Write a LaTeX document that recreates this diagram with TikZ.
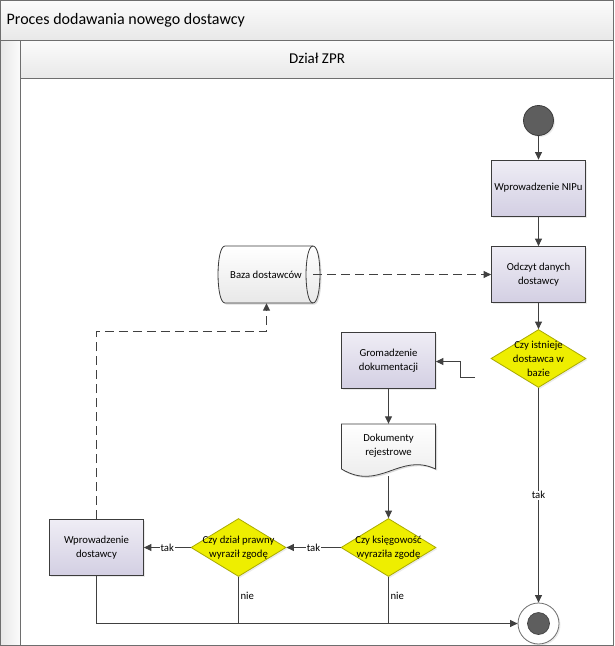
\documentclass[tikz,border=0pt]{standalone}
\usepackage{fontspec}
\setmainfont{Carlito}
\usetikzlibrary{shapes.geometric,arrows.meta,shadows}

\definecolor{frameline}{HTML}{6E6E6E}
\definecolor{barTop}{HTML}{FBFBFB}
\definecolor{barBot}{HTML}{E8E8E8}
\definecolor{taskTop}{HTML}{EFEDF5}
\definecolor{taskBot}{HTML}{D3CFE3}
\definecolor{taskLine}{HTML}{3C3C3C}
\definecolor{decFill}{RGB}{238,238,0}
\definecolor{decLine}{RGB}{170,170,0}
\definecolor{flow}{HTML}{404040}
\definecolor{dotFill}{HTML}{5E5E5E}

\tikzset{
  every node/.style={font=\fontsize{10.7}{13.8}\selectfont},
  softshadow/.style={drop shadow={opacity=0.16,shadow xshift=1.5pt,shadow yshift=-1.5pt}},
  task/.style={rectangle,draw=taskLine,line width=0.8pt,top color=taskTop,bottom color=taskBot,
    minimum width=94pt,minimum height=56pt,align=center,inner sep=2pt,softshadow},
  decision/.style={diamond,draw=decLine,line width=0.8pt,fill=decFill,
    minimum width=95pt,minimum height=58pt,inner sep=0pt,softshadow},
  dectext/.style={align=center,inner sep=0pt,font=\fontsize{10.7}{14}\selectfont},
  anchorbox/.style={rectangle,inner sep=0pt},
  flowline/.style={draw=flow,line width=1pt},
  arrow/.style={flowline,-{Triangle[length=7.5pt,width=7pt]}},
  dasharrow/.style={arrow,dash pattern=on 9pt off 5pt},
  edgelabel/.style={fill=white,inner sep=1pt},
  nielabel/.style={anchor=west,pos=0.4,inner sep=1.5pt},
}

\begin{document}
\begin{tikzpicture}[x=1pt,y=-1pt]
\useasboundingbox (0,0) rectangle (615,646);

% pool frame, title bar, lane strip and lane header
\shade[top color=barTop,bottom color=barBot] (0.5,0.5) rectangle (613.5,40.5);
\shade[left color=barBot,right color=barTop] (0.5,40.5) rectangle (20.5,645.5);
\shade[top color=barTop,bottom color=barBot] (20.5,40.5) rectangle (613.5,78.5);
\draw[frameline,line width=1pt] (0.5,0.5) rectangle (613.5,645.5);
\draw[frameline,line width=1pt] (0.5,40.5) -- (613.5,40.5);
\draw[frameline,line width=1pt] (20.5,40.5) -- (20.5,645.5);
\draw[frameline,line width=1pt] (20.5,78.5) -- (613.5,78.5);
\node[anchor=west,inner sep=0pt,font=\fontsize{16}{19}\selectfont] (pooltitle) at (6.5,20.5) {Proces dodawania nowego dostawcy};
\node[font=\fontsize{15}{18}\selectfont] (lanetitle) at (317,58.5) {Dział ZPR};

% start and end events
\node[circle,draw=taskLine,line width=0.8pt,fill=dotFill,minimum size=30pt,inner sep=0pt,softshadow] (start) at (538.5,120.5) {};
\node[circle,draw=frameline,line width=0.8pt,fill=white,minimum size=41pt,inner sep=0pt,softshadow] (end) at (538.5,623.5) {};
\node[circle,draw=taskLine,line width=0.6pt,fill=dotFill,minimum size=22pt,inner sep=0pt] (endcore) at (end) {};

% activities
\node[task] (nip) at (538.5,188) {Wprowadzenie NIPu};
\node[task] (read) at (538.5,274.5) {Odczyt danych\\dostawcy};
\node[task] (gather) at (388.5,360.5) {Gromadzenie\\dokumentacji};
\node[task] (enter) at (96.5,547.5) {Wprowadzenie\\dostawcy};

% data store drawn as a horizontal cylinder
\node[anchorbox,minimum width=102pt,minimum height=57pt] (db) at (269,274.5) {};
\fill[black,opacity=0.14] (226.5,247.5) -- (314.5,247.5)
  .. controls (323.8,247.5) and (323.8,304.5) .. (314.5,304.5) -- (226.5,304.5)
  .. controls (217.2,304.5) and (217.2,247.5) .. (226.5,247.5) -- cycle;
\draw[taskLine,line width=0.8pt,top color=white,bottom color=barBot]
  (225,246) -- (313,246) .. controls (322.3,246) and (322.3,303) .. (313,303)
  -- (225,303) .. controls (215.7,303) and (215.7,246) .. (225,246) -- cycle;
\draw[taskLine,line width=0.8pt] (313,246) .. controls (303.7,246) and (303.7,303) .. (313,303);
\node (dbtext) at (266,274.5) {Baza dostawców};

% document with wavy lower edge
\node[anchorbox,minimum width=94pt,minimum height=52pt] (docs) at (388.5,450) {};
\fill[black,opacity=0.14] (343,425.5) -- (437,425.5) -- (437,470.5)
  .. controls (401,453.5) and (381,493.5) .. (343,470.5) -- cycle;
\draw[taskLine,line width=0.8pt,top color=white,bottom color=barBot]
  (341.5,424) -- (435.5,424) -- (435.5,469) .. controls (399.5,452) and (379.5,492) .. (341.5,469) -- cycle;
\node[align=center] (docstext) at (388.5,446) {Dokumenty\\rejestrowe};

% decisions
\node[decision] (exists) at (538.5,358.5) {};
\node[dectext] at (exists) {Czy istnieje\\dostawca w\\bazie};
\node[decision] (acc) at (388.5,547.5) {};
\node[dectext] at (acc) {Czy księgowość\\wyraziła zgodę};
\node[decision] (legal) at (238.5,547.5) {};
\node[dectext] at (legal) {Czy dział prawny\\wyraził zgodę};

% sequence flows
\draw[arrow] (start) -- (nip);
\draw[arrow] (nip) -- (read);
\draw[arrow] (read) -- (exists);
\draw[arrow] (exists) -- node[edgelabel,pos=0.5] {tak} (end);
\coordinate (loose) at (475,377.5);
\draw[arrow] (loose) -- (460.5,377.5) |- (gather.east |- 0,361.5);
\draw[arrow] (gather) -- (docs.north);
\draw[arrow] (docs.south) -- (acc);
\draw[arrow] (acc) -- node[edgelabel] {tak} (legal);
\draw[arrow] (legal) -- node[edgelabel] {tak} (enter);
\draw[arrow] (enter.south) |- (end.west);
\draw[flowline] (legal.south) -- node[nielabel] {nie} (legal.south |- end.west);
\draw[flowline] (acc.south) -- node[nielabel] {nie} (acc.south |- end.west);

% data associations
\draw[dasharrow] (313,274.5) -- (read.west);
\coordinate (bend) at (266.5,331.5);
\draw[dasharrow] (enter.north) |- (bend) -- (bend |- db.south);
\end{tikzpicture}
\end{document}
